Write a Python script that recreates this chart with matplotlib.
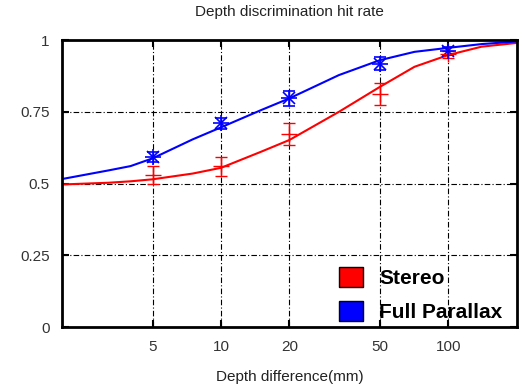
import numpy as np
import matplotlib
matplotlib.use("Agg")
import matplotlib.pyplot as plt
from matplotlib.patches import Patch

# measured hit rates
depth = [5, 10, 20, 50, 100]
stereo = [0.53, 0.56, 0.672, 0.812, 0.95]
stereo_err = [0.033, 0.033, 0.039, 0.038, 0.012]
parallax = [0.592, 0.71, 0.797, 0.918, 0.962]
parallax_err = [0.018, 0.02, 0.025, 0.022, 0.015]

# fitted curves
fit_x = [2, 3.2, 4, 5, 7.5, 10, 15, 20, 33, 50, 71, 100, 140, 200]
stereo_fit = [0.497, 0.503, 0.508, 0.515, 0.535, 0.555, 0.611, 0.652,
              0.75, 0.837, 0.907, 0.948, 0.977, 0.99]
parallax_fit = [0.516, 0.546, 0.561, 0.588, 0.654, 0.696, 0.756, 0.797,
                0.878, 0.93, 0.959, 0.973, 0.986, 0.995]

xticks = [5, 10, 20, 50, 100]
yticks = [0, 0.25, 0.5, 0.75, 1]
ytick_labels = ["0", "0.25", "0.5", "0.75", "1"]

plt.rcParams['font.family'] = ['Liberation Sans', 'DejaVu Sans']

fig = plt.figure(figsize=(5.22, 3.89), dpi=100)
ax = fig.add_axes([0.119, 0.159, 0.871, 0.738])

ax.set_xscale('log')
ax.set_xlim(2, 200)
ax.set_ylim(0, 1)

grid_style = dict(color='black', lw=0.8, ls=(0, (5, 2, 1, 2)), zorder=0)
for xv in xticks:
    ax.axvline(xv, **grid_style)
for yv in yticks[1:-1]:
    ax.axhline(yv, **grid_style)

ax.plot(fit_x, stereo_fit, color='red', lw=1.5, zorder=2)
ax.plot(fit_x, parallax_fit, color='blue', lw=1.5, zorder=2)

ax.errorbar(depth, stereo, yerr=stereo_err, fmt='+', color='red', ms=12,
            mew=1, elinewidth=1, capsize=4, zorder=3)
ax.errorbar(depth, parallax, yerr=parallax_err, fmt='+', color='blue', ms=12,
            mew=1.2, elinewidth=1, capsize=4, zorder=3)
ax.plot(depth, parallax, 'x', color='blue', ms=9, mew=1.2, zorder=3)

ax.set_xticks(xticks)
ax.set_xticklabels([str(v) for v in xticks])
ax.xaxis.set_minor_locator(matplotlib.ticker.NullLocator())
ax.set_yticks(yticks)
ax.set_yticklabels(ytick_labels)
ax.tick_params(direction='in', top=True, right=True, length=5, width=1.5,
               labelsize=11, labelcolor='#333333', pad=9)

for s in ax.spines.values():
    s.set_linewidth(2)

ax.set_title('Depth discrimination hit rate', fontsize=11, color='#222222', pad=17)
ax.set_xlabel('Depth difference(mm)', fontsize=11, color='#222222', labelpad=12)

handles = [Patch(facecolor='red', edgecolor='black', label='Stereo'),
           Patch(facecolor='blue', edgecolor='black', label='Full Parallax')]
ax.legend(handles=handles, loc='lower right', frameon=False,
          prop={'weight': 'bold', 'size': 15}, handlelength=1.12, handleheight=1.12,
          handletextpad=0.8, labelspacing=0.62, borderaxespad=0.0,
          borderpad=0.25, bbox_to_anchor=(0.98, 0.0))

fig.savefig('out.png', dpi=100)
